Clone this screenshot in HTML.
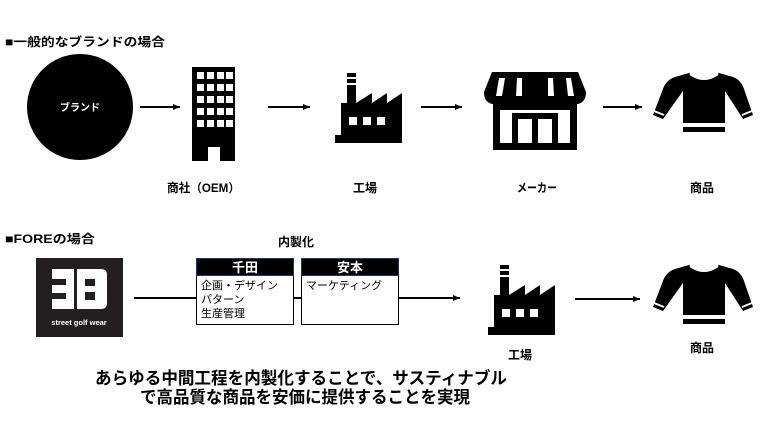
<!DOCTYPE html>
<html><head><meta charset="utf-8"><style>
html,body{margin:0;padding:0;background:#fff;}
svg{display:block;}
text{font-family:"Liberation Sans","Noto Sans CJK JP",sans-serif;font-weight:bold;fill:#000;}
</style></head><body>
<svg width="771" height="429" viewBox="0 0 771 429" xmlns="http://www.w3.org/2000/svg">
<defs>
<marker id="ah" markerWidth="8" markerHeight="8" refX="7" refY="4" orient="auto" markerUnits="userSpaceOnUse"><path d="M0,1 L7,4 L0,7 z" fill="#000"/></marker>
<g id="factory">
 <rect x="12" y="0" width="9" height="4"/><rect x="12" y="6" width="9" height="4"/>
 <path d="M12,12 H21 V30 L37,20 V30 L52,20 V30 L67,20 V68 H0 V62 H6 V30 L12,30 Z"/>
 <rect x="0" y="62" width="67" height="8"/>
</g>
<g id="sweater">
 <path d="M36,0 Q51,10 66,0 L80,4 Q88,7 91,16 L100,42 L90,46 L72,18 V50 H30 V18 L10,46 L0,42 L10,16 Q13,7 22,4 Z"/>
 <rect x="30" y="54" width="42" height="5"/>
 <path d="M37,1 Q51,11 65,1" stroke="#fff" stroke-width="2" fill="none"/>
 <line x1="1" y1="38" x2="11" y2="42" stroke="#fff" stroke-width="2"/>
 <line x1="89" y1="42" x2="99" y2="38" stroke="#fff" stroke-width="2"/>
</g>
</defs>

<text x="5" y="46" font-size="12" textLength="160" lengthAdjust="spacingAndGlyphs">■一般的なブランドの場合</text>

<circle cx="80" cy="107" r="53" fill="#000"/>
<text x="80" y="111" font-size="10" text-anchor="middle" style="fill:#fff">ブランド</text>

<g stroke="#000" stroke-width="2">
<line x1="140" y1="107" x2="180" y2="107" marker-end="url(#ah)"/>
<line x1="268" y1="107" x2="310" y2="107" marker-end="url(#ah)"/>
<line x1="421" y1="107" x2="462" y2="107" marker-end="url(#ah)"/>
<line x1="603" y1="107" x2="642" y2="107" marker-end="url(#ah)"/>
</g>

<rect x="192" y="67" width="43" height="94" fill="#000"/>
<g fill="#fff">
<rect x="197" y="72" width="7" height="7"/><rect x="207" y="72" width="7" height="7"/><rect x="217" y="72" width="7" height="7"/><rect x="226" y="72" width="7" height="7"/>
<rect x="197" y="84" width="7" height="7"/><rect x="207" y="84" width="7" height="7"/><rect x="217" y="84" width="7" height="7"/><rect x="226" y="84" width="7" height="7"/>
<rect x="197" y="96" width="7" height="7"/><rect x="207" y="96" width="7" height="7"/><rect x="217" y="96" width="7" height="7"/><rect x="226" y="96" width="7" height="7"/>
<rect x="197" y="108" width="7" height="7"/><rect x="207" y="108" width="7" height="7"/><rect x="217" y="108" width="7" height="7"/><rect x="226" y="108" width="7" height="7"/>
<rect x="197" y="120" width="7" height="7"/><rect x="207" y="120" width="7" height="7"/><rect x="217" y="120" width="7" height="7"/><rect x="226" y="120" width="7" height="7"/>
<rect x="208" y="147" width="12" height="14"/>
</g>

<use href="#factory" x="335" y="73"/>
<g fill="#fff"><rect x="349" y="117" width="8" height="8"/><rect x="363" y="117" width="8" height="8"/><rect x="377" y="117" width="8" height="8"/></g>

<path d="M492,72 H578 L586,92 Q586,102 578,104 H492 Q484,102 484,92 Z" fill="#000"/>
<g fill="#fff"><path d="M499,78 L496,96 H502 L505,78Z"/><path d="M517,78 L516,96 H522 L522,78Z"/><path d="M548,78 L548,96 H554 L553,78Z"/><path d="M566,78 L568,96 H574 L571,78Z"/></g>
<path d="M493,104 H577 V150 H493 Z M500,110 V143 H570 V110 Z" fill="#000" fill-rule="evenodd"/>
<path d="M512,113 H558 V150 H512 Z M518,119 V146 H532 V119 Z M538,119 V146 H552 V119 Z" fill="#000" fill-rule="evenodd"/>

<use href="#sweater" x="653" y="73"/>

<text x="167" y="192" font-size="12" textLength="73" lengthAdjust="spacingAndGlyphs">商社（OEM）</text>
<text x="353" y="192" font-size="12">工場</text>
<text x="517" y="192" font-size="12" textLength="40" lengthAdjust="spacingAndGlyphs">メーカー</text>
<text x="690" y="192" font-size="12">商品</text>

<text x="5" y="243" font-size="12" textLength="90" lengthAdjust="spacingAndGlyphs">■FOREの場合</text>
<text x="278" y="246" font-size="12">内製化</text>

<rect x="36" y="258" width="87" height="79" fill="#231f20"/>
<g fill="#fff">
<path d="M52,269 H74 V309 H52 V299 H66 V293 H52 V285 H66 V279 H52 Z"/>
<path d="M77,269 H101 Q107,269 107,275 V303 Q107,309 101,309 H77 V269 Z" />
</g>
<g fill="#231f20"><rect x="85" y="279" width="10" height="7"/><rect x="85" y="292" width="10" height="8"/></g>
<text x="79" y="325" font-size="7.5" text-anchor="middle" style="fill:#fff">street golf wear</text>

<line x1="134" y1="298" x2="196" y2="298" stroke="#000" stroke-width="2"/>
<line x1="293" y1="298" x2="301" y2="298" stroke="#000" stroke-width="2"/>
<line x1="398" y1="298" x2="460" y2="298" stroke="#000" stroke-width="2" marker-end="url(#ah)"/>

<rect x="196.5" y="258.5" width="97" height="66" fill="#fff" stroke="#000"/>
<rect x="196.5" y="258.5" width="97" height="17" fill="#000" stroke="#1f3864"/>
<text x="245" y="272" font-size="13" text-anchor="middle" style="fill:#fff">千田</text>
<text x="201" y="289" font-size="11" style="font-weight:normal">企画・デザイン</text>
<text x="201" y="303" font-size="11" style="font-weight:normal">パターン</text>
<text x="201" y="317" font-size="11" style="font-weight:normal">生産管理</text>

<rect x="301.5" y="258.5" width="97" height="66" fill="#fff" stroke="#000"/>
<rect x="301.5" y="258.5" width="97" height="17" fill="#000" stroke="#1f3864"/>
<text x="350" y="272" font-size="13" text-anchor="middle" style="fill:#fff">安本</text>
<text x="306" y="289" font-size="11" style="font-weight:normal">マーケティング</text>

<use href="#factory" x="488" y="265"/>
<g fill="#fff"><rect x="502" y="309" width="8" height="8"/><rect x="516" y="309" width="8" height="8"/><rect x="530" y="309" width="8" height="8"/></g>

<line x1="575" y1="299" x2="640" y2="299" stroke="#000" stroke-width="2" marker-end="url(#ah)"/>
<use href="#sweater" x="653" y="265"/>

<text x="508" y="359" font-size="12">工場</text>
<text x="690" y="352" font-size="12">商品</text>

<text x="95" y="384" font-size="17" textLength="412" lengthAdjust="spacingAndGlyphs">あらゆる中間工程を内製化することで、サスティナブル</text>
<text x="140" y="403" font-size="17" textLength="330" lengthAdjust="spacingAndGlyphs">で高品質な商品を安価に提供することを実現</text>
</svg>
</body></html>
